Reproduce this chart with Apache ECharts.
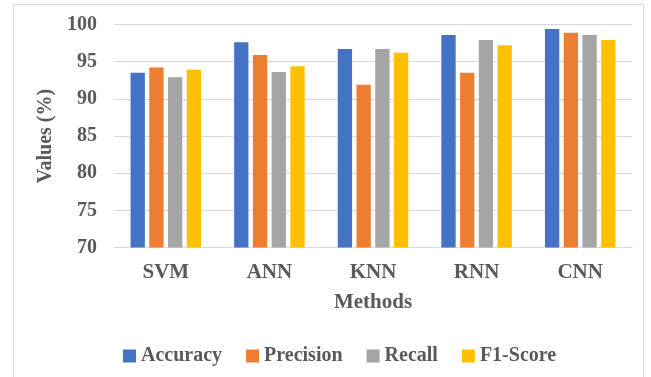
<!DOCTYPE html>
<html>
<head>
<meta charset="utf-8">
<style>
  html, body { margin: 0; padding: 0; background: #ffffff; }
  #chart { width: 651px; height: 377px; }
</style>
<script src="https://cdn.jsdelivr.net/npm/echarts@6/dist/echarts.min.js"></script>
</head>
<body>
<div id="chart"></div>
<script>
// Classification methods compared on four metrics
const methods = ['SVM', 'ANN', 'KNN', 'RNN', 'CNN'];
const accuracy  = [93.5, 97.6, 96.7, 98.6, 99.4];
const precision = [94.2, 95.9, 91.9, 93.5, 98.9];
const recall    = [92.9, 93.6, 96.7, 97.9, 98.6];
const f1Score   = [93.9, 94.4, 96.2, 97.2, 97.9];
const yTicks = [70, 75, 80, 85, 90, 95, 100];

const seriesDefs = [
  { name: 'Accuracy',  data: accuracy,  color: '#4472C4' },
  { name: 'Precision', data: precision, color: '#ED7D31' },
  { name: 'Recall',    data: recall,    color: '#A5A5A5' },
  { name: 'F1-Score',  data: f1Score,   color: '#FFC000' }
];

const font = 'Liberation Serif, Times New Roman, serif';
const textGrey = '#595959';
const lineGrey = '#D9D9D9';

const chart = echarts.init(document.getElementById('chart'), null, { renderer: 'canvas' });

chart.setOption({
  animation: false,
  backgroundColor: '#ffffff',
  graphic: [{
    type: 'rect',
    shape: { x: 13.5, y: 4.5, width: 630, height: 400 },
    style: { fill: 'none', stroke: lineGrey, lineWidth: 1 },
    silent: true,
    z: -1
  }],
  grid: { left: 114, right: 19, top: 24.5, bottom: 129.5, containLabel: false },
  legend: {
    left: 118,
    top: 341,
    itemWidth: 13,
    itemHeight: 13,
    itemGap: 24,
    icon: 'rect',
    textStyle: { fontFamily: font, fontWeight: 'bold', fontSize: 20, color: textGrey },
    data: seriesDefs.map(s => s.name)
  },
  xAxis: {
    type: 'category',
    data: methods,
    name: 'Methods',
    nameLocation: 'middle',
    nameGap: 45,
    nameTextStyle: { fontFamily: font, fontWeight: 'bold', fontSize: 21, color: textGrey },
    axisLine: { show: true, lineStyle: { color: lineGrey, width: 1 } },
    axisTick: { show: false },
    axisLabel: { margin: 15, fontFamily: font, fontWeight: 'bold', fontSize: 21, color: textGrey }
  },
  yAxis: {
    type: 'value',
    min: yTicks[0],
    max: yTicks[yTicks.length - 1],
    interval: 5,
    name: 'Values (%)',
    nameLocation: 'middle',
    nameGap: 53,
    nameRotate: 90,
    nameTextStyle: { fontFamily: font, fontWeight: 'bold', fontSize: 20, color: textGrey },
    axisLine: { show: false },
    axisTick: { show: false },
    axisLabel: { margin: 17, fontFamily: font, fontWeight: 'bold', fontSize: 20, color: textGrey },
    splitLine: { show: true, lineStyle: { color: lineGrey, width: 1 } }
  },
  series: seriesDefs.map(s => ({
    type: 'bar',
    name: s.name,
    data: s.data,
    barWidth: 14.3,
    barGap: '31%',
    itemStyle: { color: s.color }
  }))
});
</script>
</body>
</html>
